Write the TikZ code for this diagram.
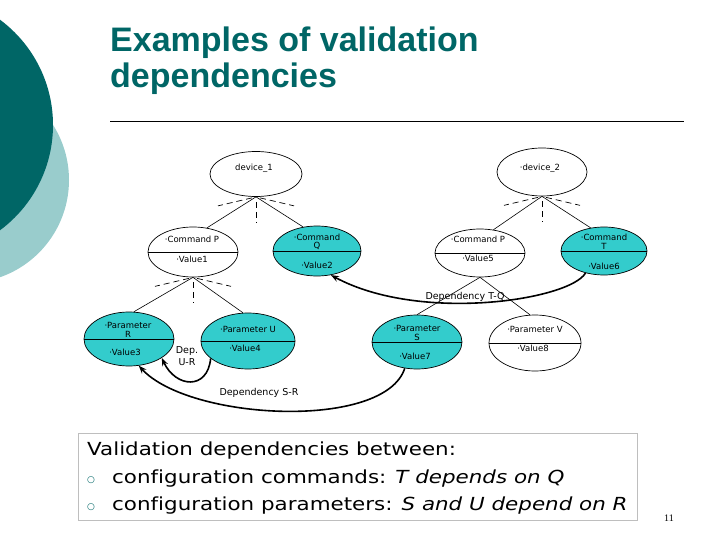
\documentclass[tikz,border=0pt]{standalone}
\usepackage{fontspec}
\setmainfont{DejaVu Sans}
\newfontfamily\titlefont{Liberation Sans}
\newfontfamily\boxfont[FakeStretch=1.19, Ligatures=NoCommon]{DejaVu Sans}
\newfontfamily\numfont{Liberation Serif}
\definecolor{DarkTeal}{RGB}{0,102,102}
\definecolor{PaleTeal}{RGB}{153,204,204}
\definecolor{CfgTeal}{RGB}{51,204,204}
\definecolor{BoxGrey}{RGB}{190,190,190}
\usetikzlibrary{arrows.meta, shapes.geometric, calc}

\begin{document}
\begin{tikzpicture}[x=1pt, y=-1pt,
    every node/.style={inner sep=0pt},
    entity/.style={draw, ellipse, line width=0.7pt, inner sep=0pt},
    cfgentity/.style={entity, fill=CfgTeal},
    tag/.style={font=\fontsize{8.5}{8.5}\selectfont, align=center},
    stub/.style={dash pattern=on 6pt off 4pt, line width=0.7pt},
    link/.style={line width=0.6pt},
    dep/.style={line width=1.6pt, -{Stealth[length=8pt, width=6pt]}},
    deptext/.style={font=\fontsize{9.5}{12}\selectfont, align=center},
    boxtext/.style={anchor=base west, font=\boxfont\fontsize{18}{18}\selectfont}
]
\useasboundingbox (0,0) rectangle (720,540);
\clip (0,0) rectangle (720,540);
% Decor stanga
\fill[PaleTeal] (-34,180) circle (103);
\fill[DarkTeal] (-78,125) circle (131);
% Titlu
\node[anchor=base west, text=DarkTeal, font=\titlefont\bfseries\fontsize{34}{36}\selectfont] (title1) at (110,52) {Examples of validation};
\node[anchor=base west, text=DarkTeal, font=\titlefont\bfseries\fontsize{34}{36}\selectfont] (title2) at (110,88) {dependencies};
\draw[line width=0.8pt] (110,121) -- (684,121);
% Elipse
\foreach \n/\x/\y/\w/\h/\s in {dev1/256/174/92/45/entity, dev2/542/172/90/48/entity,
    cmdP1/193/252/90/50/entity, cmdQ/317/251/88/50/cfgentity,
    cmdP2/480/253/90/48/entity, cmdT/604/251/86/48/cfgentity,
    parR/129/339/90/54/cfgentity, parU/248/341/94/56/cfgentity,
    parS/417/342/90/54/cfgentity, parV/535/343/92/56/entity} {
    \node[\s, minimum width=\w pt, minimum height=\h pt] (\n) at (\x,\y) {};
}
\foreach \n in {cmdP1, cmdQ, cmdP2, cmdT, parR, parU, parS, parV} {
    \draw[line width=0.7pt] (\n.west) -- (\n.east);
}
% Texte in elipse
\node[tag] (dev1txt) at (254,168) {device\_1};
\node[tag] (dev2txt) at (540,168) {·device\_2};
\node[tag] (cmdP1a) at (192,239) {·Command P};
\node[tag] (cmdP1b) at (192,259) {·Value1};
\node[tag] (cmdQa) at (317,242) {·Command\\Q};
\node[tag] (cmdQb) at (317,265) {·Value2};
\node[tag] (cmdP2a) at (478,239) {·Command P};
\node[tag] (cmdP2b) at (478,258) {·Value5};
\node[tag] (cmdTa) at (604,242) {·Command\\T};
\node[tag] (cmdTb) at (604,266) {·Value6};
\node[tag] (parRa) at (128,330) {·Parameter\\R};
\node[tag] (parRb) at (125,352) {·Value3};
\node[tag] (parUa) at (248,329) {·Parameter U};
\node[tag] (parUb) at (245,348) {·Value4};
\node[tag] (parSa) at (417,333) {·Parameter\\S};
\node[tag] (parSb) at (415,356) {·Value7};
\node[tag] (parVa) at (535,329) {·Parameter V};
\node[tag] (parVb) at (533,348) {·Value8};
% Arbore
\coordinate (j1) at (dev1.south);
\coordinate (j2) at (dev2.south);
\coordinate (j3) at (cmdP1.south);
\coordinate (j4) at (cmdP2.south);
\draw[link] (j1) -- (cmdP1.60);  \draw[link] (j1) -- (cmdQ.120);
\draw[link] (j2) -- (cmdP2.60);  \draw[link] (j2) -- (cmdT.120);
\draw[link] (j3) -- (parR.80);   \draw[link] (j3) -- (parU.100);
\draw[link] (j4) -- (parS.90);   \draw[link] (j4) -- (parV.100);
\foreach \j in {j1, j2, j3} {
    \draw[stub] ($(\j)+(-4,1)$) -- ($(\j)+(-38,9)$);
    \draw[stub] ($(\j)+(4,1)$) -- ($(\j)+(38,9)$);
    \draw[stub] ($(\j)+(0,5)$) -- ($(\j)+(0,26)$);
}
% Dependente
\draw[dep] (cmdT.230) .. controls ($(cmdT.230)+(-16,27)$) and ($(cmdQ.300)+(89,48)$) .. (cmdQ.300);
\draw[dep] (parS.245) .. controls ($(parS.245)+(-20,62)$) and ($(parR.290)+(51,55)$) .. (parR.290);
\draw[dep] (parU.205) .. controls ($(parU.205)+(-3,32)$) and ($(parR.330)+(14,30)$) .. (parR.330);
\node[deptext] (tqtext) at (465,297) {Dependency T-Q};
\node[deptext] (srtext) at (259,393) {Dependency S-R};
\node[deptext] (urtext) at (187,356) {Dep.\\U-R};
% Caseta
\draw[BoxGrey, line width=0.8pt] (78,433) rectangle (637,520);
\node[boxtext] (line1) at (87,455) {Validation dependencies between:};
\node[font=\fontsize{9}{9}\selectfont, text=DarkTeal] (bul1) at (91,480) {○};
\node[font=\fontsize{9}{9}\selectfont, text=DarkTeal] (bul2) at (91,507) {○};
\node[boxtext] (line2) at (112,483) {configuration commands: \textit{T depends on Q}};
\node[boxtext] (line3) at (112,510) {configuration parameters: \textit{S and U depend on R}};
\node[anchor=base, font=\numfont\fontsize{10}{10}\selectfont] (pagenum) at (669,521) {11};
\end{tikzpicture}
\end{document}
